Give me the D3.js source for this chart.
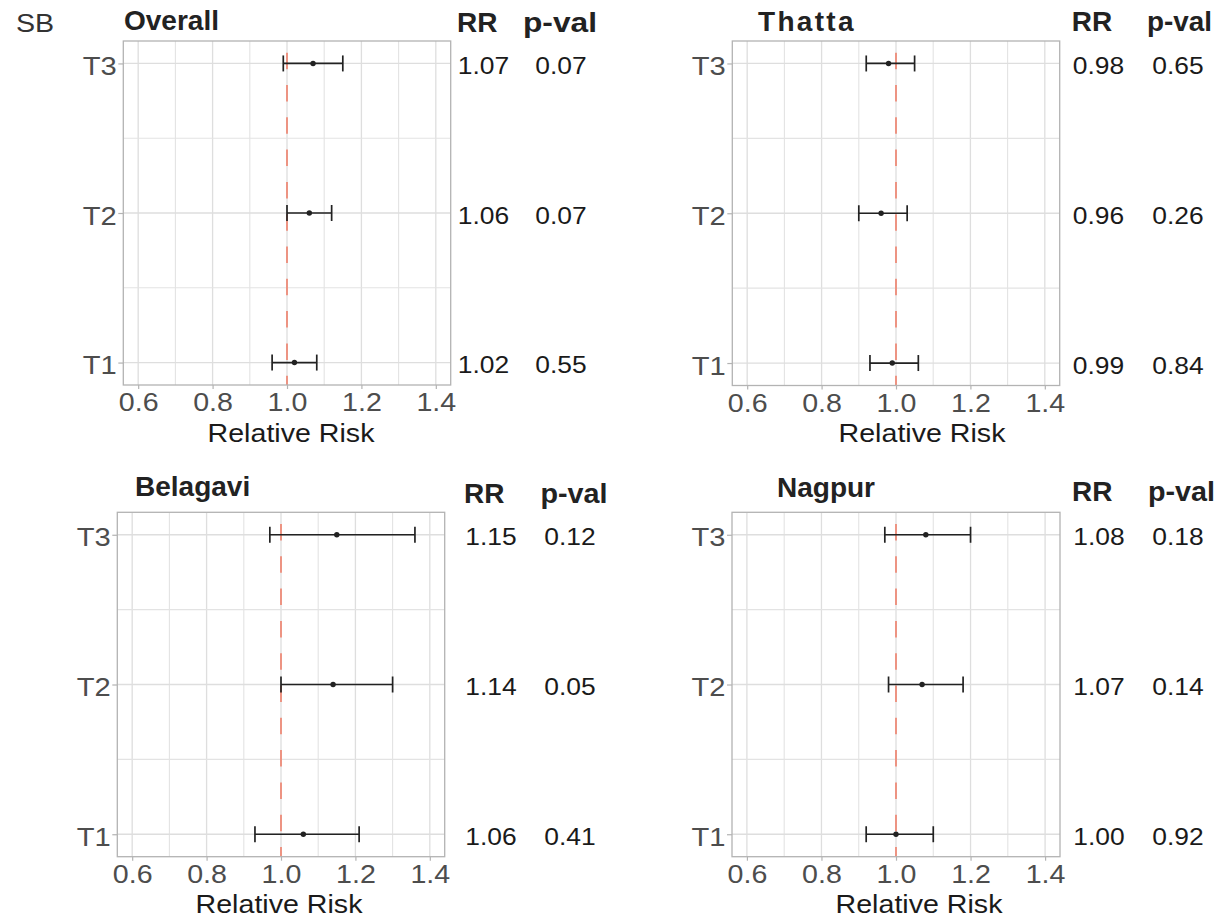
<!DOCTYPE html>
<html>
<head>
<meta charset="utf-8">
<script src="https://cdn.jsdelivr.net/npm/d3@7"></script>
<style>
  html, body { margin: 0; padding: 0; background: #ffffff; }
  svg text { font-family: "Liberation Sans", Arial, Helvetica, sans-serif; }
</style>
</head>
<body>
<svg id="chart" width="1222" height="920"></svg>
<script>
// ---------------- data ----------------
const sites = ["Overall", "Thatta", "Belagavi", "Nagpur"];
const terms = ["T1", "T2", "T3"];
const xTicks = [0.6, 0.8, 1.0, 1.2, 1.4];
const xMinor = [0.7, 0.9, 1.1, 1.3];
const xDomain = [0.56, 1.44];
const refValue = 1.0;

const overallRR = [1.02, 1.06, 1.07];
const overallLo = [0.96, 1.00, 0.99];
const overallHi = [1.08, 1.12, 1.15];
const overallP  = ["0.55", "0.07", "0.07"];

const thattaRR = [0.99, 0.96, 0.98];
const thattaLo = [0.93, 0.90, 0.92];
const thattaHi = [1.06, 1.03, 1.05];
const thattaP  = ["0.84", "0.26", "0.65"];

const belagaviRR = [1.06, 1.14, 1.15];
const belagaviLo = [0.93, 1.00, 0.97];
const belagaviHi = [1.21, 1.30, 1.36];
const belagaviP  = ["0.41", "0.05", "0.12"];

const nagpurRR = [1.00, 1.07, 1.08];
const nagpurLo = [0.92, 0.98, 0.97];
const nagpurHi = [1.10, 1.18, 1.20];
const nagpurP  = ["0.92", "0.14", "0.18"];

const seriesRR = [overallRR, thattaRR, belagaviRR, nagpurRR];
const seriesLo = [overallLo, thattaLo, belagaviLo, nagpurLo];
const seriesHi = [overallHi, thattaHi, belagaviHi, nagpurHi];
const seriesP  = [overallP, thattaP, belagaviP, nagpurP];

// ---------------- layout ----------------
const layout = [
  {x0:123.3, x1:450.7, y0:41,    y1:385,   titleX:124, titleY:30,  ls:0,   headY:31.5, rrHeadX:457,    pHeadX:523,  pHeadW:74,
   rrX:483.5, pX:561,  axisTitleX:291, axisTitleY:441.5},
  {x0:732.3, x1:1059.7, y0:41,   y1:385.5, titleX:758, titleY:31,  ls:2.3, headY:31,   rrHeadX:1071.7, pHeadX:1147, pHeadW:65,
   rrX:1098.5, pX:1178, axisTitleX:922, axisTitleY:441.5},
  {x0:117.3, x1:444.7, y0:512.3, y1:856.7, titleX:135, titleY:496, ls:0,   headY:503,  rrHeadX:464,    pHeadX:540.5, pHeadW:67,
   rrX:491,   pX:570,  axisTitleX:279, axisTitleY:913},
  {x0:732,   x1:1060,  y0:512.3, y1:856.7, titleX:777, titleY:497, ls:0,   headY:500.7, rrHeadX:1072,  pHeadX:1148, pHeadW:67,
   rrX:1099,  pX:1178, axisTitleX:919, axisTitleY:913}
];

const FONT_STRETCH = 1.1;
const svg = d3.select("#chart");

function addText(g, x, y, s, o) {
  const t = g.append("text")
    .attr("transform", `translate(${x},${y}) scale(${o.sx || 1},1)`)
    .attr("text-anchor", o.anchor || "start")
    .style("font-size", o.size + "px")
    .style("font-weight", o.weight || "normal")
    .style("fill", o.fill || "#1a1a1a")
    .text(s);
  if (o.ls) t.style("letter-spacing", o.ls + "px");
  if (o.tl) t.attr("textLength", o.tl).attr("lengthAdjust", "spacingAndGlyphs");
  return t;
}

// SB label
addText(svg, 16, 32.3, "SB", {size: 26, sx: FONT_STRETCH, fill: "#333333"});

sites.forEach((site, i) => {
  const L = layout[i];
  const g = svg.append("g");

  const x = d3.scaleLinear().domain(xDomain).range([L.x0, L.x1]);
  const y = d3.scalePoint().domain(terms).range([L.y1, L.y0]).padding(0.15);
  const step = y.step();

  // gridlines
  const grid = g.append("g");
  grid.selectAll(".vmaj").data(xTicks).join("line")
    .attr("x1", d => x(d)).attr("x2", d => x(d))
    .attr("y1", L.y0).attr("y2", L.y1)
    .attr("stroke", "#dedede").attr("stroke-width", 1.3);
  grid.selectAll(".vmin").data(xMinor).join("line")
    .attr("x1", d => x(d)).attr("x2", d => x(d))
    .attr("y1", L.y0).attr("y2", L.y1)
    .attr("stroke", "#e3e3e3").attr("stroke-width", 1.1);
  grid.selectAll(".hmaj").data(terms).join("line")
    .attr("x1", L.x0).attr("x2", L.x1)
    .attr("y1", d => y(d)).attr("y2", d => y(d))
    .attr("stroke", "#dedede").attr("stroke-width", 1.3);
  grid.selectAll(".hmin").data(terms.slice(1)).join("line")
    .attr("x1", L.x0).attr("x2", L.x1)
    .attr("y1", d => y(d) + step / 2).attr("y2", d => y(d) + step / 2)
    .attr("stroke", "#e3e3e3").attr("stroke-width", 1.1);

  // reference line
  g.append("line")
    .attr("x1", x(refValue)).attr("x2", x(refValue))
    .attr("y1", L.y0).attr("y2", L.y1)
    .attr("stroke", "#ee8b78").attr("stroke-width", 1.8)
    .attr("stroke-dasharray", "16.5 15.8").attr("stroke-dashoffset", 20.6);

  // error bars
  const rows = terms.map((t, k) => ({t, rr: seriesRR[i][k], lo: seriesLo[i][k], hi: seriesHi[i][k], p: seriesP[i][k]}));
  const eb = g.append("g").attr("stroke", "#222222").attr("stroke-width", 1.7);
  eb.selectAll(".bar").data(rows).join("line")
    .attr("x1", d => x(d.lo)).attr("x2", d => x(d.hi))
    .attr("y1", d => y(d.t)).attr("y2", d => y(d.t));
  eb.selectAll(".capL").data(rows).join("line")
    .attr("x1", d => x(d.lo)).attr("x2", d => x(d.lo))
    .attr("y1", d => y(d.t) - 8).attr("y2", d => y(d.t) + 8);
  eb.selectAll(".capR").data(rows).join("line")
    .attr("x1", d => x(d.hi)).attr("x2", d => x(d.hi))
    .attr("y1", d => y(d.t) - 8).attr("y2", d => y(d.t) + 8);
  g.selectAll(".pt").data(rows).join("circle")
    .attr("cx", d => x(d.rr)).attr("cy", d => y(d.t)).attr("r", 2.7)
    .attr("fill", "#222222");

  // panel border
  g.append("rect")
    .attr("x", L.x0).attr("y", L.y0)
    .attr("width", L.x1 - L.x0).attr("height", L.y1 - L.y0)
    .attr("fill", "none").attr("stroke", "#b3b3b3").attr("stroke-width", 1.3);

  // axes
  const xa = g.append("g").attr("transform", `translate(0,${L.y1})`)
    .call(d3.axisBottom(x).tickValues(xTicks).tickFormat(d3.format(".1f")).tickSize(4));
  xa.select(".domain").remove();
  xa.selectAll(".tick line").attr("stroke", "#b3b3b3").attr("stroke-width", 1.2);
  xa.selectAll(".tick text")
    .attr("y", 26.5).attr("dy", null)
    .attr("transform", `scale(${FONT_STRETCH},1)`)
    .style("font-size", "26px").style("fill", "#4d4d4d");

  const ya = g.append("g").attr("transform", `translate(${L.x0},0)`)
    .call(d3.axisLeft(y).tickSize(5));
  ya.select(".domain").remove();
  ya.selectAll(".tick line").attr("stroke", "#b3b3b3").attr("stroke-width", 1.2);
  ya.selectAll(".tick text")
    .attr("x", -6.6 / FONT_STRETCH).attr("y", 11).attr("dy", null)
    .attr("transform", `scale(${FONT_STRETCH},1)`)
    .style("font-size", "26.5px").style("fill", "#4d4d4d");

  // axis title
  addText(g, L.axisTitleX, L.axisTitleY, "Relative Risk", {size: 26, sx: FONT_STRETCH, anchor: "middle", fill: "#1a1a1a"});

  // panel title
  addText(g, L.titleX, L.titleY, site, {size: 28, weight: "bold", fill: "#222222", ls: L.ls});

  // table headers
  addText(g, L.rrHeadX, L.headY, "RR", {size: 28, weight: "bold", fill: "#222222"});
  addText(g, L.pHeadX, L.headY, "p-val", {size: 28, weight: "bold", fill: "#222222", tl: L.pHeadW});

  // table values
  rows.forEach(d => {
    addText(g, L.rrX, y(d.t) + 10.5, d.rr.toFixed(2), {size: 24, sx: FONT_STRETCH, anchor: "middle", fill: "#1a1a1a"});
    addText(g, L.pX, y(d.t) + 10.5, d.p, {size: 24, sx: FONT_STRETCH, anchor: "middle", fill: "#1a1a1a"});
  });
});
</script>
</body>
</html>
